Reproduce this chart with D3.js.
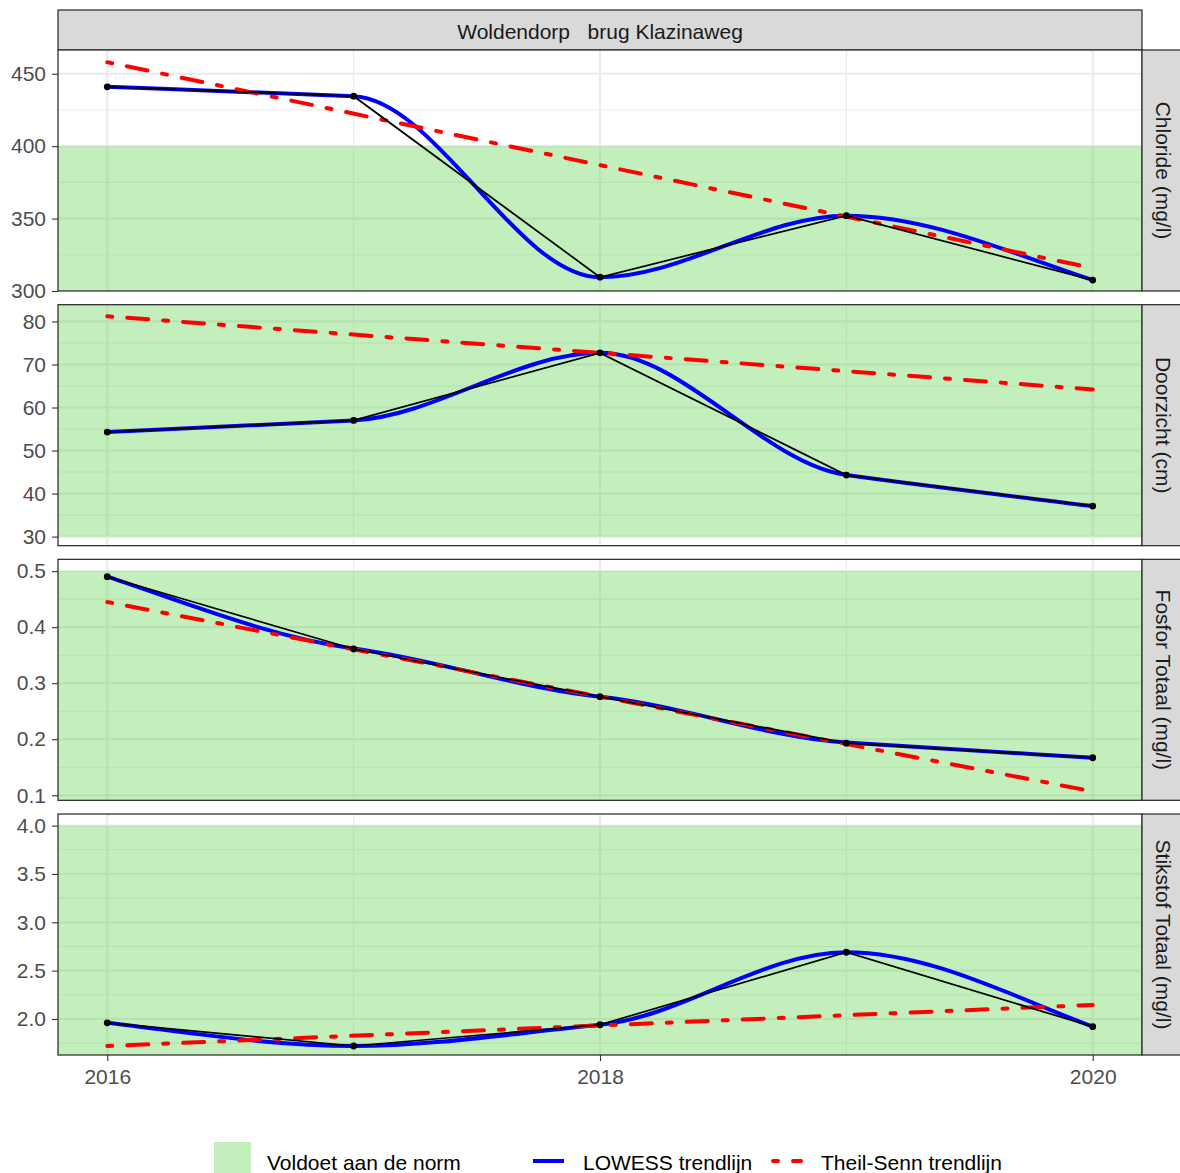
<!DOCTYPE html>
<html>
<head>
<meta charset="utf-8">
<script src="https://cdn.jsdelivr.net/npm/d3@7"></script>
<style>
  body { margin: 0; background: #fff; }
  svg { display: block; font-family: "Liberation Sans", Arial, sans-serif; }
</style>
</head>
<body>
<script>
// ---------------- DATA ----------------
const years = [2016, 2017, 2018, 2019, 2020];
const stationTitle = "Woldendorp   brug Klazinaweg";
const params = ["Chloride (mg/l)", "Doorzicht (cm)", "Fosfor Totaal (mg/l)", "Stikstof Totaal (mg/l)"];

const chloride  = [441, 434.5, 309.5, 352, 307.5];
const doorzicht = [54.3, 57.0, 72.7, 44.3, 37.1];
const fosfor    = [0.490, 0.361, 0.276, 0.193, 0.167];
const stikstof  = [1.96, 1.72, 1.94, 2.69, 1.92];

// LOWESS fitted values (blue)
const lowessChloride  = [441, 434.5, 309.5, 352, 307.5];
const lowessDoorzicht = [54.3, 57.0, 72.7, 44.3, 37.1];
const lowessFosfor    = [0.490, 0.362, 0.276, 0.194, 0.167];
const lowessStikstof  = [1.96, 1.72, 1.94, 2.69, 1.92];

// Theil-Sen trend endpoints (2016, 2020)
const theilYears     = [2016, 2020];
const theilChloride  = [458, 315.8];
const theilDoorzicht = [81.2, 64.2];
const theilFosfor    = [0.445, 0.107];
const theilStikstof  = [1.72, 2.145];

// Norm band (null = open end)
const normChloride  = [null, 400];
const normDoorzicht = [30, null];
const normFosfor    = [null, 0.5];
const normStikstof  = [null, 4.0];

// Axis limits and ticks
const yLimits = [[300, 466.4], [27.9, 83.9], [0.091, 0.521], [1.627, 4.12]];
const yTicks = [
  [300, 350, 400, 450],
  [30, 40, 50, 60, 70, 80],
  [0.1, 0.2, 0.3, 0.4, 0.5],
  [2.0, 2.5, 3.0, 3.5, 4.0]
];
const yTickLabels = [
  ["300", "350", "400", "450"],
  ["30", "40", "50", "60", "70", "80"],
  ["0.1", "0.2", "0.3", "0.4", "0.5"],
  ["2.0", "2.5", "3.0", "3.5", "4.0"]
];
const yMinor = [
  [325, 375, 425],
  [35, 45, 55, 65, 75],
  [0.15, 0.25, 0.35, 0.45],
  [1.75, 2.25, 2.75, 3.25, 3.75]
];
const xLimits = [2015.8, 2020.2];
const xTicks = [2016, 2018, 2020];
const xMinor = [2017, 2019];
const legendLabels = ["Voldoet aan de norm", "LOWESS trendlijn", "Theil-Senn trendlijn"];

const series = [chloride, doorzicht, fosfor, stikstof];
const lowess = [lowessChloride, lowessDoorzicht, lowessFosfor, lowessStikstof];
const theil = [theilChloride, theilDoorzicht, theilFosfor, theilStikstof];
const norms = [normChloride, normDoorzicht, normFosfor, normStikstof];

// ---------------- SMOOTH CURVE (softened monotone Hermite) ----------------
function curveSoft(k) {
  return function(context) {
    return {
      areaStart() { this._area = true; },
      areaEnd() { this._area = false; },
      lineStart() { this._x = []; this._y = []; },
      point(px, py) { this._x.push(+px); this._y.push(+py); },
      lineEnd() {
        const X = this._x, Y = this._y, n = X.length;
        if (!n) return;
        if (n < 3) {
          context.moveTo(X[0], Y[0]);
          for (let j = 1; j < n; j++) context.lineTo(X[j], Y[j]);
          return;
        }
        const s = [];
        for (let j = 0; j < n - 1; j++) s.push((Y[j + 1] - Y[j]) / (X[j + 1] - X[j]));
        const t = new Array(n).fill(0);
        for (let j = 1; j < n - 1; j++) {
          const h0 = X[j] - X[j - 1], h1 = X[j + 1] - X[j];
          const p = (s[j - 1] * h1 + s[j] * h0) / (h0 + h1);
          t[j] = k * ((Math.sign(s[j - 1]) + Math.sign(s[j])) *
            Math.min(Math.abs(s[j - 1]), Math.abs(s[j]), 0.5 * Math.abs(p)) || 0);
        }
        t[0] = s[0] + (s[0] - t[1]) / 4;
        t[n - 1] = s[n - 2] + (s[n - 2] - t[n - 2]) / 4;
        context.moveTo(X[0], Y[0]);
        for (let j = 0; j < n - 1; j++) {
          const h = (X[j + 1] - X[j]) / 3;
          context.bezierCurveTo(X[j] + h, Y[j] + t[j] * h, X[j + 1] - h, Y[j + 1] - t[j + 1] * h, X[j + 1], Y[j + 1]);
        }
      }
    };
  };
}

// ---------------- LAYOUT ----------------
const W = 1180, H = 1173;
const PL = 58, PR = 1142;
const stripTop = 10, panelsTop = 50, panelsBottom = 1055, gap = 13.7;
const panelH = (panelsBottom - panelsTop - 3 * gap) / 4;

const green = "rgba(80,210,60,0.35)";
const gridCol = "#EBEBEB";
const borderCol = "#333333";
const font = "21px";
const dashes = "5,15,21,15";

const svg = d3.select("body").append("svg").attr("width", W).attr("height", H);
const defs = svg.append("defs");

const x = d3.scaleLinear().domain(xLimits).range([PL, PR]);

// top strip
svg.append("rect").attr("x", PL).attr("y", stripTop).attr("width", PR - PL).attr("height", panelsTop - stripTop)
  .attr("fill", "#D9D9D9").attr("stroke", borderCol).attr("stroke-width", 1.3);
svg.append("text").attr("x", (PL + PR) / 2).attr("y", (stripTop + panelsTop) / 2 + 1)
  .attr("text-anchor", "middle").attr("dominant-baseline", "central")
  .style("white-space", "pre").attr("font-size", font).attr("fill", "#1A1A1A").text(stationTitle);

params.forEach((p, i) => {
  const pTop = panelsTop + i * (panelH + gap);
  const pBot = pTop + panelH;
  const y = d3.scaleLinear().domain(yLimits[i]).range([pBot, pTop]);
  const g = svg.append("g");

  defs.append("clipPath").attr("id", "clip" + i).append("rect")
    .attr("x", PL).attr("y", pTop).attr("width", PR - PL).attr("height", panelH);

  g.append("rect").attr("x", PL).attr("y", pTop).attr("width", PR - PL).attr("height", panelH).attr("fill", "#fff");

  const grid = g.append("g").attr("clip-path", `url(#clip${i})`);
  yMinor[i].forEach(v => grid.append("line").attr("x1", PL).attr("x2", PR)
    .attr("y1", y(v)).attr("y2", y(v)).attr("stroke", gridCol).attr("stroke-width", 1.1));
  xMinor.forEach(v => grid.append("line").attr("x1", x(v)).attr("x2", x(v))
    .attr("y1", pTop).attr("y2", pBot).attr("stroke", gridCol).attr("stroke-width", 1.1));
  yTicks[i].forEach(v => grid.append("line").attr("x1", PL).attr("x2", PR)
    .attr("y1", y(v)).attr("y2", y(v)).attr("stroke", gridCol).attr("stroke-width", 2.2));
  xTicks.forEach(v => grid.append("line").attr("x1", x(v)).attr("x2", x(v))
    .attr("y1", pTop).attr("y2", pBot).attr("stroke", gridCol).attr("stroke-width", 2.2));

  const data = g.append("g").attr("clip-path", `url(#clip${i})`);
  const nLo = norms[i][0] === null ? pBot : y(norms[i][0]);
  const nHi = norms[i][1] === null ? pTop : y(norms[i][1]);
  data.append("rect").attr("x", PL).attr("width", PR - PL)
    .attr("y", nHi).attr("height", nLo - nHi).attr("fill", green);

  data.append("path").datum(years.map((yr, k) => [yr, lowess[i][k]]))
    .attr("d", d3.line().x(d => x(d[0])).y(d => y(d[1])).curve(curveSoft(0.55)))
    .attr("fill", "none").attr("stroke", "#0000FF").attr("stroke-width", 4);

  data.append("path").datum(theilYears.map((yr, k) => [yr, theil[i][k]]))
    .attr("d", d3.line().x(d => x(d[0])).y(d => y(d[1])))
    .attr("fill", "none").attr("stroke", "#FF0000").attr("stroke-width", 4)
    .attr("stroke-dasharray", dashes).attr("stroke-linecap", "round");

  data.append("path").datum(years.map((yr, k) => [yr, series[i][k]]))
    .attr("d", d3.line().x(d => x(d[0])).y(d => y(d[1])))
    .attr("fill", "none").attr("stroke", "#000").attr("stroke-width", 1.7);
  data.selectAll("circle").data(years.map((yr, k) => [yr, series[i][k]])).join("circle")
    .attr("cx", d => x(d[0])).attr("cy", d => y(d[1])).attr("r", 3.4).attr("fill", "#000");

  g.append("rect").attr("x", PL).attr("y", pTop).attr("width", PR - PL).attr("height", panelH)
    .attr("fill", "none").attr("stroke", borderCol).attr("stroke-width", 1.3);

  svg.append("rect").attr("x", PR).attr("y", pTop).attr("width", 50).attr("height", panelH)
    .attr("fill", "#D9D9D9").attr("stroke", borderCol).attr("stroke-width", 1.3);
  svg.append("text").attr("transform", `translate(${PR + 21},${(pTop + pBot) / 2}) rotate(90)`)
    .attr("text-anchor", "middle").attr("dominant-baseline", "central")
    .attr("font-size", font).attr("fill", "#1A1A1A").text(p);

  const ax = svg.append("g").attr("transform", `translate(${PL},0)`)
    .call(d3.axisLeft(y).tickValues(yTicks[i]).tickFormat((d, k) => yTickLabels[i][k]).tickSize(6).tickPadding(6));
  ax.select(".domain").remove();
  ax.selectAll("line").attr("stroke", borderCol).attr("stroke-width", 1.1);
  ax.selectAll("text").attr("font-size", font).attr("fill", "#4D4D4D").attr("font-family", "Liberation Sans, Arial, sans-serif");

  if (i === 3) {
    const axx = svg.append("g").attr("transform", `translate(0,${pBot})`)
      .call(d3.axisBottom(x).tickValues(xTicks).tickFormat(d3.format("d")).tickSize(6).tickPadding(8));
    axx.select(".domain").remove();
    axx.selectAll("line").attr("stroke", borderCol).attr("stroke-width", 1.1);
    axx.selectAll("text").attr("font-size", font).attr("fill", "#4D4D4D").attr("font-family", "Liberation Sans, Arial, sans-serif");
  }
});

// ---------------- LEGEND ----------------
const ly = 1162;
const lg = svg.append("g");
lg.append("rect").attr("x", 214).attr("y", 1142).attr("width", 37).attr("height", 37).attr("fill", green);
lg.append("text").attr("x", 267).attr("y", ly).attr("dominant-baseline", "central")
  .attr("font-size", font).attr("fill", "#000").text(legendLabels[0]);
lg.append("line").attr("x1", 533).attr("x2", 564).attr("y1", ly - 1).attr("y2", ly - 1)
  .attr("stroke", "#0000FF").attr("stroke-width", 4);
lg.append("text").attr("x", 583).attr("y", ly).attr("dominant-baseline", "central")
  .attr("font-size", font).attr("fill", "#000").text(legendLabels[1]);
lg.append("line").attr("x1", 773).attr("x2", 801).attr("y1", ly - 1).attr("y2", ly - 1)
  .attr("stroke", "#FF0000").attr("stroke-width", 4)
  .attr("stroke-dasharray", dashes).attr("stroke-linecap", "round");
lg.append("text").attr("x", 821).attr("y", ly).attr("dominant-baseline", "central")
  .attr("font-size", font).attr("fill", "#000").text(legendLabels[2]);
</script>
</body>
</html>
